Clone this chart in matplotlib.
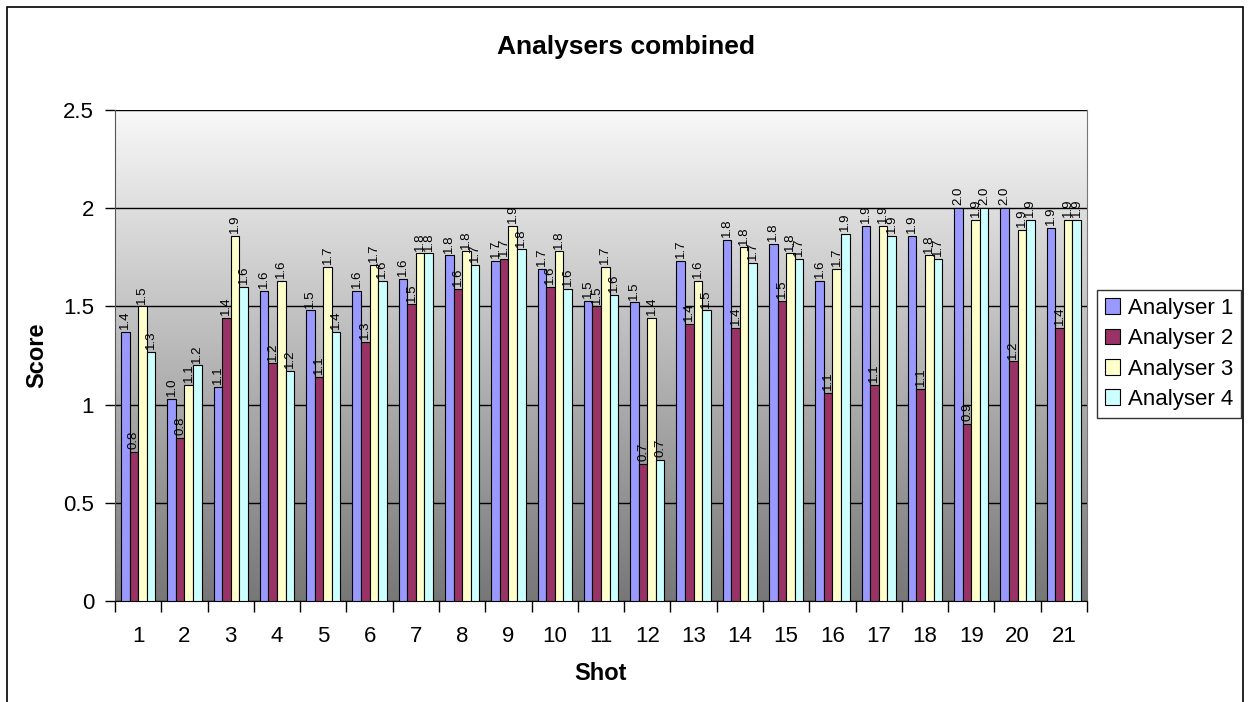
import numpy as np
import matplotlib
matplotlib.use("Agg")
import matplotlib.pyplot as plt
from matplotlib.patches import Rectangle
from matplotlib.colors import LinearSegmentedColormap

plt.rcParams["font.family"] = ["Liberation Sans", "DejaVu Sans"]

shots = list(range(1, 22))
series = ["Analyser 1", "Analyser 2", "Analyser 3", "Analyser 4"]
a1 = [1.37, 1.03, 1.09, 1.58, 1.48, 1.58, 1.64, 1.76, 1.73, 1.69, 1.53,
      1.52, 1.73, 1.84, 1.82, 1.63, 1.91, 1.86, 2.00, 2.00, 1.90]
a2 = [0.76, 0.83, 1.44, 1.21, 1.14, 1.32, 1.51, 1.59, 1.74, 1.60, 1.50,
      0.70, 1.41, 1.39, 1.53, 1.06, 1.10, 1.08, 0.90, 1.22, 1.39]
a3 = [1.50, 1.10, 1.86, 1.63, 1.70, 1.71, 1.77, 1.78, 1.91, 1.78, 1.70,
      1.44, 1.63, 1.80, 1.77, 1.69, 1.91, 1.76, 1.94, 1.89, 1.94]
a4 = [1.27, 1.20, 1.60, 1.17, 1.37, 1.63, 1.77, 1.71, 1.79, 1.59, 1.56,
      0.72, 1.48, 1.72, 1.74, 1.87, 1.86, 1.74, 2.00, 1.94, 1.94]
values = [a1, a2, a3, a4]
colors = ["#9999FF", "#993366", "#FFFFCC", "#CCFFFF"]

fig = plt.figure(figsize=(12.5, 7.02), dpi=100)
ax = fig.add_axes([115 / 1250, 1 - 601 / 702, (1087 - 115) / 1250, (601 - 110) / 702])

# outer chart border
fig.patches.append(Rectangle((7 / 1250, -0.02), (1243 - 7) / 1250, 0.02 + 1 - 7 / 702,
                             transform=fig.transFigure, fill=False, edgecolor="black", linewidth=1.2))

# gradient background of plot area
grad = np.linspace(0, 1, 256).reshape(-1, 1)
cmap = LinearSegmentedColormap.from_list("bg", ["#777777", "#F8F8F8"])
ax.imshow(grad, extent=[0.5, 21.5, 0, 2.5], origin="lower", aspect="auto", cmap=cmap, zorder=0)

x = np.array(shots, dtype=float)
w = 0.185
for i, (name, v, c) in enumerate(zip(series, values, colors)):
    pos = x + (i - 1.5) * w
    ax.bar(pos, v, width=w, color=c, edgecolor="black", linewidth=0.8, label=name, zorder=3)
    for px, py in zip(pos, v):
        ax.annotate(f"{py:.1f}", (px, py), xytext=(0, 2), textcoords="offset points",
                    rotation=90, ha="center", va="bottom", fontsize=9.5, zorder=4)

ax.set_xlim(0.5, 21.5)
ax.set_ylim(0, 2.5)
ax.set_yticks([0, 0.5, 1, 1.5, 2, 2.5])
ax.set_yticklabels(["0", "0.5", "1", "1.5", "2", "2.5"])
ax.set_xticks(x)
ax.set_xticklabels([str(s) for s in shots])
ax.set_xticks(np.arange(0.5, 22, 1), minor=True)
ax.tick_params(axis="x", which="major", length=0, labelsize=16, pad=18)
ax.tick_params(axis="x", which="minor", length=8, width=1, direction="out")
ax.tick_params(axis="y", length=7, width=1, labelsize=16, pad=8)
ax.yaxis.grid(True, color="black", linewidth=1, zorder=1)
ax.set_axisbelow(True)
ax.spines["top"].set_visible(False)
ax.spines["left"].set_color("#555555")
ax.spines["right"].set_color("#777777")
ax.spines["bottom"].set_color("black")

fig.text(626 / 1250, 1 - 47 / 702, "Analysers combined", fontsize=19, fontweight="bold",
         ha="center", va="center")
ax.set_xlabel("Shot", fontsize=17, fontweight="bold", va="center")
ax.xaxis.set_label_coords(0.5, -(674 - 601) / 491)
ax.set_ylabel("Score", fontsize=17, fontweight="bold", va="center")
ax.yaxis.set_label_coords(-(115 - 37) / 972, 0.5)

leg = fig.legend(loc="center left", bbox_to_anchor=(1097 / 1250, 1 - 354 / 702),
                 fontsize=16, frameon=True, fancybox=False, edgecolor="black",
                 handlelength=0.7, handleheight=0.7, handletextpad=0.35,
                 borderpad=0.35, labelspacing=0.42, borderaxespad=0)
leg.get_frame().set_linewidth(1)

fig.savefig("out.png", dpi=100)
